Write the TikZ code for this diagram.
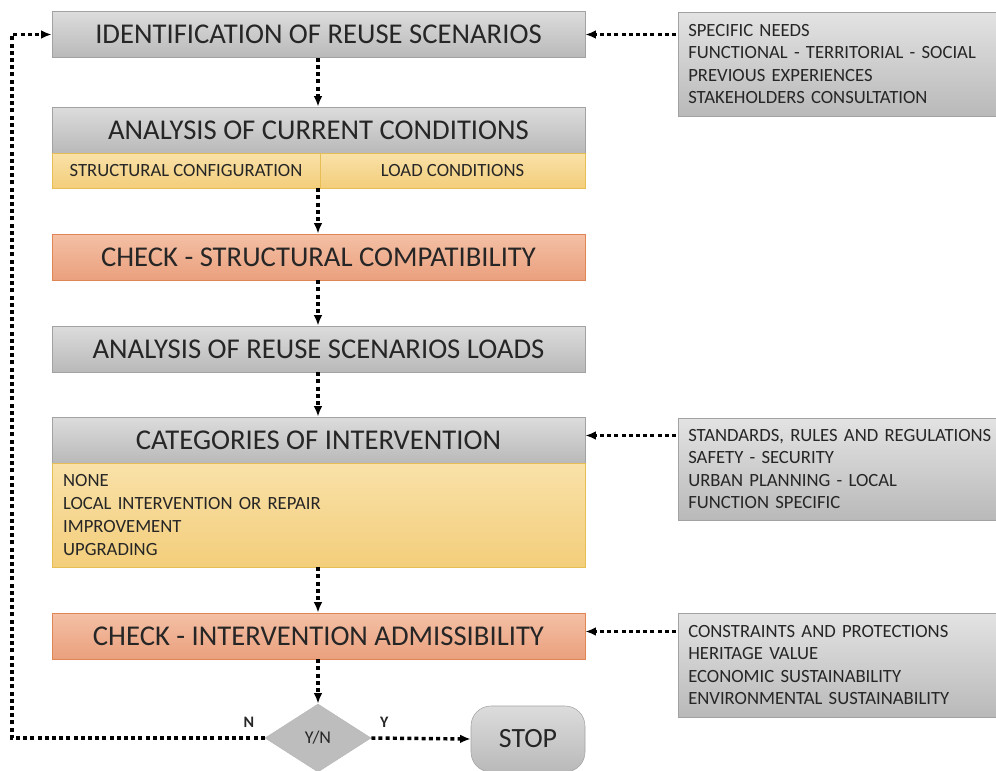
\documentclass[tikz,border=0pt]{standalone}
\usepackage{fontspec}
\setmainfont{Carlito}
\usetikzlibrary{arrows,arrows.meta,shapes,shapes.geometric}
\usetikzlibrary{positioning}
\usetikzlibrary{calc}
\definecolor{greytop}{HTML}{DCDCDC}
\definecolor{greybot}{HTML}{B9B9B9}
\definecolor{greyline}{HTML}{A2A2A2}
\definecolor{orangetop}{HTML}{F4C0A5}
\definecolor{orangebot}{HTML}{EAA07D}
\definecolor{orangeline}{HTML}{DF8556}
\definecolor{yellowtop}{HTML}{F9E1A8}
\definecolor{yellowbot}{HTML}{F3CE7B}
\definecolor{yellowline}{HTML}{E6BE55}
\definecolor{ink}{HTML}{262626}
\tikzstyle{stepbox}=[rectangle,draw=greyline,top color=greytop,bottom color=greybot,minimum width=399.75pt,minimum height=34.5pt,inner sep=0pt,font=\fontsize{21.5}{24}\selectfont,text=ink]
\tikzstyle{checkbox}=[stepbox,draw=orangeline,top color=orangetop,bottom color=orangebot]
\tikzstyle{band}=[rectangle,draw=yellowline,top color=yellowtop,bottom color=yellowbot,inner sep=0pt,font=\fontsize{14}{17}\selectfont,text=ink]
\tikzstyle{sidebox}=[rectangle,anchor=west,draw=greyline,top color=greytop!80!white,bottom color=greybot,text width=235pt,align=left,inner xsep=7.5pt,inner ysep=0pt,font=\fontsize{14}{16.9}\selectfont,text=ink]
\tikzstyle{flow} = [draw,black,line width=2.6pt,dash pattern=on 3pt off 2.4pt,-{Latex[length=8pt,width=6.5pt]}]
\tikzstyle{answer} = [font=\bfseries\fontsize{12}{14}\selectfont,text=ink]

\begin{document}
\begin{tikzpicture}[x=0.75pt,y=-0.75pt]
    \useasboundingbox (0,0) rectangle (996,771);

    % Main column of steps
    \node[stepbox] (ident) at (318.5,34.5) {IDENTIFICATION OF REUSE SCENARIOS};
    \node[stepbox] (curr) at (318.5,130) {ANALYSIS OF CURRENT CONDITIONS};
    \node[band,minimum width=201pt,minimum height=26.25pt] (struct) at (186,170.5) {STRUCTURAL CONFIGURATION};
    \node[band,minimum width=198.75pt,minimum height=26.25pt] (loadc) at (452.5,170.5) {LOAD CONDITIONS};
    \node[checkbox] (compat) at (318.5,257) {CHECK - STRUCTURAL COMPATIBILITY};
    \node[stepbox] (loads) at (318.5,349) {ANALYSIS OF REUSE SCENARIOS LOADS};
    \node[stepbox] (cat) at (318.5,440) {CATEGORIES OF INTERVENTION};
    \node[band,minimum width=399.75pt,minimum height=78pt,text width=383pt,align=left,font=\fontsize{14}{17.25}\selectfont] (catlist) at (318.5,515)
        {NONE\\LOCAL INTERVENTION OR REPAIR\\IMPROVEMENT\\UPGRADING};
    \node[checkbox] (admis) at (318.5,636) {CHECK - INTERVENTION ADMISSIBILITY};

    % Decision and end
    \node[diamond,draw=greybot,fill=greybot!95!white,minimum width=79.5pt,minimum height=51pt,aspect=1.56,inner sep=0pt,font=\fontsize{13.5}{15}\selectfont,text=ink] (yn) at (318,738) {Y/N};
    \node[rectangle,rounded corners=15pt,draw=greyline,top color=greytop,bottom color=greybot,minimum width=85.5pt,minimum height=49.5pt,font=\fontsize{20.9}{24}\selectfont,text=ink] (stop) at (528,739) {STOP};

    % Side inputs
    \node[sidebox,minimum height=78pt] (needs) at (678,64)
        {SPECIFIC NEEDS\\FUNCTIONAL - TERRITORIAL - SOCIAL\\PREVIOUS EXPERIENCES\\STAKEHOLDERS CONSULTATION};
    \node[sidebox,minimum height=76.5pt] (rules) at (678,469)
        {STANDARDS, RULES AND REGULATIONS\\SAFETY - SECURITY\\URBAN PLANNING - LOCAL\\FUNCTION SPECIFIC};
    \node[sidebox,minimum height=78pt] (constr) at (678,665)
        {CONSTRAINTS AND PROTECTIONS\\HERITAGE VALUE\\ECONOMIC SUSTAINABILITY\\ENVIRONMENTAL SUSTAINABILITY};

    % Connect the steps
    \foreach \source/\dest in {ident/curr, struct/compat, compat/loads, loads/cat, catlist/admis, admis/yn}
        \path[flow] (\source.south -| yn.north) -- (\dest.north -| yn.north);

    % Side inputs into the steps
    \path[flow] ([xshift=-1.5pt]needs.west |- ident.east) -- (ident.east);
    \path[flow] ([xshift=-1.5pt]rules.west |- cat.east) ++(0,-4.5) -- ([yshift=4.5*0.75pt]cat.east);
    \path[flow] ([xshift=-1.5pt]constr.west |- admis.east) ++(0,-4.5) -- ([yshift=4.5*0.75pt]admis.east);

    % Yes / no branches
    \path[flow] (yn.east) -- node[answer,above=3pt,pos=0.13] {Y} (stop.west);
    \path[flow] (yn.west) -- node[answer,above=3pt,pos=0.063] (no) {N} (12,738) |- (ident.west);
\end{tikzpicture}
\end{document}
